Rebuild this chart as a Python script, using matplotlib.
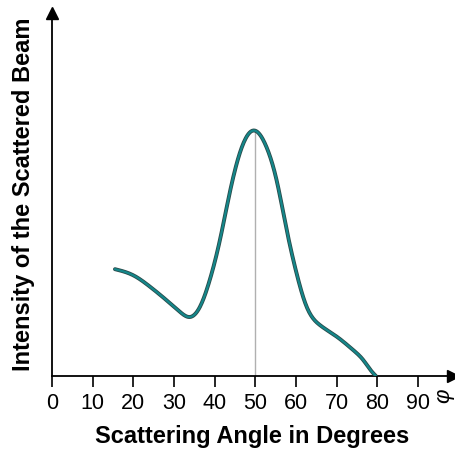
import numpy as np
import matplotlib.pyplot as plt

plt.rcParams['font.family'] = ['Liberation Sans', 'DejaVu Sans']

# scattering angle (degrees) and relative intensity
angle = [15.5, 20.0, 24.0, 28.2, 31.4, 33.9, 36.4, 38.8, 41.3, 43.7, 46.2,
         49.5, 52.7, 55.2, 57.7, 60.1, 62.6, 65.8, 70.0, 74.0, 76.5, 78.5, 79.6]
intensity = [0.435, 0.410, 0.365, 0.308, 0.262, 0.240, 0.282, 0.391, 0.554,
             0.746, 0.909, 1.000, 0.934, 0.799, 0.595, 0.420, 0.282, 0.208,
             0.160, 0.106, 0.065, 0.020, 0.0]
peak_angle = 50
xticks = [0, 10, 20, 30, 40, 50, 60, 70, 80, 90]


def smooth(x, y, n=400):
    """Natural cubic spline through the points, for drawing only."""
    x = np.asarray(x, float)
    y = np.asarray(y, float)
    m = len(x)
    h = np.diff(x)
    A = np.zeros((m, m))
    b = np.zeros(m)
    A[0, 0] = A[-1, -1] = 1
    for i in range(1, m - 1):
        A[i, i - 1] = h[i - 1]
        A[i, i] = 2 * (h[i - 1] + h[i])
        A[i, i + 1] = h[i]
        b[i] = 6 * ((y[i + 1] - y[i]) / h[i] - (y[i] - y[i - 1]) / h[i - 1])
    M = np.linalg.solve(A, b)
    xs = np.linspace(x[0], x[-1], n)
    k = np.clip(np.searchsorted(x, xs) - 1, 0, m - 2)
    t1 = x[k + 1] - xs
    t0 = xs - x[k]
    ys = (M[k] * t1 ** 3 + M[k + 1] * t0 ** 3) / (6 * h[k]) \
        + (y[k] / h[k] - M[k] * h[k] / 6) * t1 \
        + (y[k + 1] / h[k] - M[k + 1] * h[k] / 6) * t0
    return xs, ys


fig = plt.figure(figsize=(4.55, 4.54), dpi=100)
ax = fig.add_axes([0.114, 0.172, 0.881, 0.80])

sx, sy = smooth(angle, intensity)
ax.plot(sx, sy, color='#2a4a4a', lw=2.8, solid_capstyle='round', zorder=3)
ax.plot(sx, sy, color='#14878a', lw=1.6, solid_capstyle='round', zorder=4)

ax.plot([peak_angle, peak_angle], [0, max(intensity)], color='#b0b0b0', lw=1.0, zorder=2)

ax.set_xlim(0, 98.5)
ax.set_ylim(0, 1.48)
for s in ('top', 'right'):
    ax.spines[s].set_visible(False)
for s in ('left', 'bottom'):
    ax.spines[s].set_linewidth(1.3)

ax.plot(1, 0, '>k', ms=8, transform=ax.get_yaxis_transform(), clip_on=False)
ax.plot(0, 1, '^k', ms=8, transform=ax.get_xaxis_transform(), clip_on=False)

ax.set_xticks(xticks)
ax.set_yticks([])
ax.tick_params(axis='x', direction='out', length=8, width=1.2, labelsize=15.5, pad=4)

ax.set_xlabel('Scattering Angle in Degrees', fontsize=17, fontweight='bold', labelpad=8)
ax.set_ylabel('Intensity of the Scattered Beam', fontsize=17, fontweight='bold', labelpad=12)

ax.text(96.3, -0.08, 'φ', fontsize=16, style='italic', rotation=90,
        ha='center', va='center', clip_on=False)

fig.savefig('out.png', dpi=100)
